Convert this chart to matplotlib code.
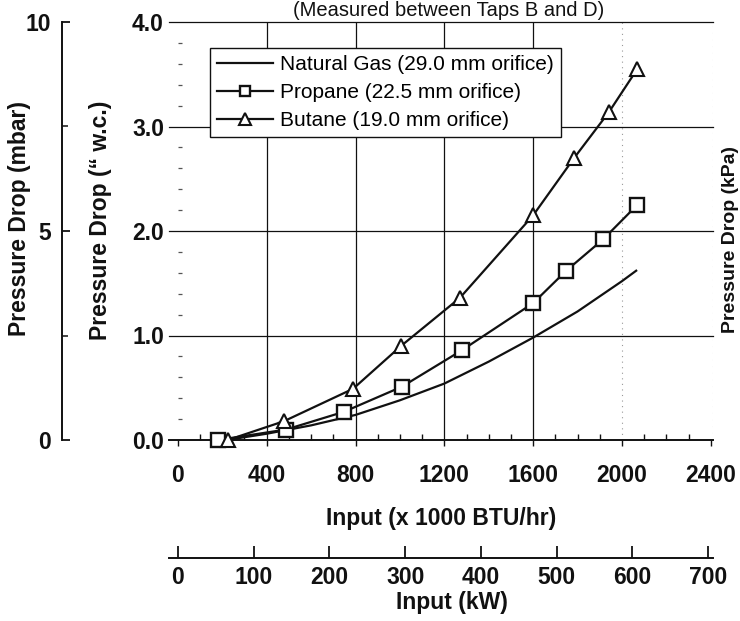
import matplotlib
matplotlib.use("Agg")
import matplotlib.pyplot as plt
from matplotlib.ticker import FixedLocator, FormatStrFormatter, MultipleLocator

# ---- data ----
ng_x = [220, 400, 600, 800, 1000, 1200, 1400, 1600, 1800, 2000, 2064]
ng_y = [0.0, 0.06, 0.14, 0.24, 0.38, 0.54, 0.75, 0.98, 1.23, 1.52, 1.62]
propane_x = [180, 487, 748, 1009, 1280, 1600, 1749, 1915, 2069]
propane_y = [0.0, 0.10, 0.27, 0.51, 0.86, 1.31, 1.62, 1.92, 2.25]
butane_x = [225, 478, 789, 1005, 1270, 1600, 1785, 1942, 2069]
butane_y = [0.0, 0.18, 0.49, 0.90, 1.36, 2.15, 2.70, 3.14, 3.55]

labels = ["Natural Gas (29.0 mm orifice)",
          "Propane (22.5 mm orifice)",
          "Butane (19.0 mm orifice)"]

btu_ticks = [0, 400, 800, 1200, 1600, 2000, 2400]
wc_ticks = [0.0, 1.0, 2.0, 3.0, 4.0]
mbar_ticks = [0, 5, 10]
mbar_minor = [2.5, 7.5]
kw_ticks = [0, 100, 200, 300, 400, 500, 600, 700]
KW_TO_KBTU = 3.412

title = "(Measured between Taps B and D)"

plt.rcParams['font.family'] = ['Liberation Sans', 'DejaVu Sans']
INK = "#111111"
BOLD = dict(fontsize=16.5, fontweight='bold', color=INK)

fig = plt.figure(figsize=(7.4, 6.21), dpi=100)
ax = fig.add_axes([169/740, 1-440/621, 544/740, 418/621])
ax.set_xlim(-40, 2410)
ax.set_ylim(0, 4.0)

# grid
for v in btu_ticks[1:-1]:
    if v < 2000:
        ax.axvline(v, color=INK, lw=0.9, zorder=1)
    else:
        ax.axvline(v, color="#999999", lw=0.8, ls=(0, (1, 4)), zorder=1)
ax.axvline(2410, color="#aaaaaa", lw=0.8, ls=(0, (1, 5)), zorder=1)
for v in wc_ticks[1:]:
    ax.axhline(v, color=INK, lw=0.9, zorder=1, clip_on=False)

# spines
for s in ['top', 'right']:
    ax.spines[s].set_visible(False)
ax.spines['left'].set_position(('data', 0))
ax.spines['left'].set_visible(False)
ax.spines['bottom'].set_linewidth(1.4)
ax.spines['bottom'].set_color(INK)

# data
ax.plot(ng_x, ng_y, color=INK, lw=1.6, label=labels[0], zorder=3, clip_on=False)
ax.plot(propane_x, propane_y, color=INK, lw=1.6, marker='s', ms=9.5,
        mfc='white', mec=INK, mew=1.7, label=labels[1], zorder=4, clip_on=False)
ax.plot(butane_x, butane_y, color=INK, lw=1.6, marker='^', ms=10.5,
        mfc='white', mec=INK, mew=1.5, label=labels[2], zorder=5, clip_on=False)

# ticks
ax.xaxis.set_major_locator(FixedLocator(btu_ticks))
ax.xaxis.set_minor_locator(MultipleLocator(100))
ax.set_xticklabels([str(t) for t in btu_ticks], **BOLD)
ax.tick_params(axis='x', which='major', direction='out', length=4, width=1, pad=13, colors=INK)
ax.tick_params(axis='x', which='minor', direction='in', length=4, width=1, colors=INK)

ax.yaxis.set_major_locator(FixedLocator(wc_ticks))
ax.yaxis.set_minor_locator(MultipleLocator(0.2))
ax.yaxis.set_major_formatter(FormatStrFormatter('%.1f'))
for lab in ax.get_yticklabels():
    lab.set_fontsize(16.5); lab.set_fontweight('bold'); lab.set_color(INK)
ax.tick_params(axis='y', which='major', length=0, pad=10, colors=INK)
ax.tick_params(axis='y', which='minor', direction='in', length=3, width=0.9, color="#555555")

# mbar axis on the far left
ax2 = ax.twinx()
ax2.set_ylim(0, 10)
for s in ['top', 'right', 'bottom']:
    ax2.spines[s].set_visible(False)
ax2.spines['left'].set_visible(True)
ax2.spines['left'].set_position(('axes', (62-169)/544))
ax2.spines['left'].set_linewidth(1.4)
ax2.spines['left'].set_color(INK)
ax2.yaxis.tick_left()
ax2.yaxis.set_major_locator(FixedLocator(mbar_ticks))
ax2.yaxis.set_minor_locator(FixedLocator(mbar_minor))
ax2.set_yticklabels([str(t) for t in mbar_ticks], **BOLD)
ax2.tick_params(axis='y', which='major', direction='in', length=6, width=1.3, pad=8, colors=INK)
ax2.tick_params(axis='y', which='minor', direction='in', length=4, width=1.1, colors=INK)

# kW secondary x axis
sec = ax.secondary_xaxis((440-558)/418, functions=(lambda x: x/KW_TO_KBTU, lambda k: k*KW_TO_KBTU))
sec.set_xticks(kw_ticks)
sec.set_xticklabels([str(t) for t in kw_ticks], **BOLD)
sec.tick_params(axis='x', direction='in', length=9, width=1.3, pad=6, colors=INK)
for sp in sec.spines.values():
    sp.set_linewidth(1.4)
    sp.set_color(INK)

# legend
leg = ax.legend(loc='upper left', bbox_to_anchor=((210-169)/544, (440-48)/418),
                fontsize=15, frameon=True, fancybox=False, shadow=False,
                edgecolor=INK, framealpha=1, handlelength=2.65, handletextpad=0.35,
                borderpad=0.35, labelspacing=0.42, borderaxespad=0, markerscale=0.8)
leg.get_frame().set_linewidth(1.0)
leg.set_zorder(10)

# labels
fig.text(441/740, 1-518/621, "Input (x 1000 BTU/hr)", ha='center', va='center', **BOLD)
fig.text(452/740, 1-603/621, "Input (kW)", ha='center', va='center', **BOLD)
fig.text(101/740, 1-220/621, "Pressure Drop (\u201c w.c.)", rotation=90, ha='center', va='center', **BOLD)
fig.text(20/740, 1-218/621, "Pressure Drop (mbar)", rotation=90, ha='center', va='center', **BOLD)
fig.text(449/740, 1-1/621, title, ha='center', va='top', fontsize=14.5, color=INK)
fig.text(739/740, 1-240/621, "Pressure Drop (kPa)", rotation=90, ha='right', va='center',
         fontsize=14, fontweight='bold', color=INK)

fig.savefig("out.png", dpi=100)
